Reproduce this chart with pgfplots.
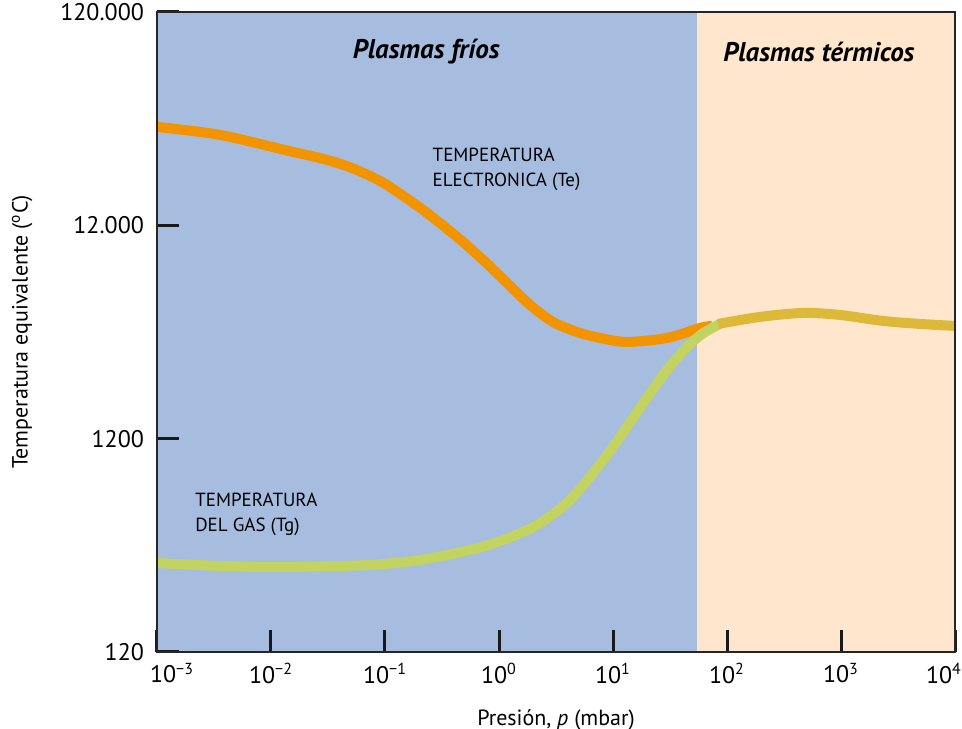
\documentclass[border=0pt]{standalone}
\usepackage{pgfplots}
\pgfplotsset{compat=1.18}
\usepackage{fontspec}
\setmainfont{PT Sans}
\definecolor{coldbg}{HTML}{A6BDDF}
\definecolor{hotbg}{HTML}{FFE6CC}
\definecolor{teorange}{HTML}{F29400}
\definecolor{tggreen}{HTML}{C2D361}
\definecolor{mixyellow}{HTML}{DDB93A}
\begin{document}
\begin{tikzpicture}
\begin{axis}[
  name=main,
  scale only axis, width=399pt, height=320pt,
  xmode=log, ymode=log,
  xmin=1e-3, xmax=1e4, ymin=120, ymax=120000,
  axis on top,
  axis line style={line width=1.2pt, black!85},
  xtick={1e-3,1e-2,1e-1,1,10,100,1000,10000},
  xticklabels={\hspace*{15pt}10\textsuperscript{−3},10\textsuperscript{−2},10\textsuperscript{−1},10\textsuperscript{0},10\textsuperscript{1},10\textsuperscript{2},10\textsuperscript{3},10\textsuperscript{4}\hspace*{11pt}},
  ytick={120,1200,12000,120000},
  yticklabels={120,1200,12.000,120.000},
  xminorticks=false, yminorticks=false,
  tick align=inside, xtick pos=bottom, ytick pos=left,
  major tick length=11pt,
  tick style={line width=1.5pt, black!90},
  tick label style={font=\fontsize{12}{14}\selectfont},
  xticklabel style={yshift=-2pt},
  yticklabel style={xshift=-3pt},
  xlabel={Presión, \textit{p} (mbar)},
  ylabel={Temperatura equivalente (\textsuperscript{o}C)},
  label style={font=\fontsize{11}{13}\selectfont},
  xlabel style={yshift=-6pt},
  ylabel style={yshift=7pt},
  clip=true,
]
\addplot[draw=none, fill=coldbg] coordinates {(0.001,120) (54.6,120) (54.6,120000) (0.001,120000)} -- cycle;
\addplot[draw=none, fill=hotbg] coordinates {(54.6,120) (10000,120) (10000,120000) (54.6,120000)} -- cycle;

\addplot[teorange, line width=5pt, smooth, line cap=butt] coordinates {
(0.001,34710) (0.003573,31840) (0.01469,26700) (0.02858,24600) (0.0500,22400) (0.0802,20020)
(0.1106,18160) (0.2154,14170) (0.4284,10590) (0.7244,8260) (1.175,6447)
(1.871,5082) (2.978,4229) (4.83,3796) (7.69,3558) (13.27,3409)
(29.8,3558) (57.9,3964) (73.8,4052)};

\addplot[tggreen, line width=5pt, smooth, line cap=butt] coordinates {
(0.001,313.6) (0.003573,303.7) (0.01274,300.4) (0.07379,307) (0.2028,324)
(0.557,361) (1.084,402) (2.153,473) (4.20,619) (8.17,949.5) (11.51,1222)
(18.32,1753) (29.8,2519) (44.6,3229) (61.5,3740) (86.8,4139)};

\addplot[mixyellow, line width=5pt, smooth, line cap=butt] coordinates {
(83.4,4139) (194.5,4465) (464.5,4661) (979,4561) (2333,4275) (4932,4139) (10000,4052)};

\node[anchor=north west, align=left, font=\fontsize{9.5}{12.5}\selectfont, inner sep=0pt]
  at (axis cs:0.26,27800) {TEMPERATURA\\ELECTRONICA (Te)};
\node[anchor=north west, align=left, font=\fontsize{9.5}{12.5}\selectfont, inner sep=0pt]
  at (axis cs:0.00215,670) {TEMPERATURA\\DEL GAS (Tg)};
\node[font=\fontsize{13.5}{15}\selectfont\bfseries\itshape] at (axis cs:0.23,78000) {Plasmas fríos};
\node[font=\fontsize{13.5}{15}\selectfont\bfseries\itshape] at (axis cs:640,78000) {Plasmas térmicos};
\end{axis}
\pgfresetboundingbox
\path ([shift={(-78.5pt,-38.5pt)}]main.south west) rectangle ([shift={(3.5pt,6pt)}]main.north east);
\end{tikzpicture}
\end{document}
